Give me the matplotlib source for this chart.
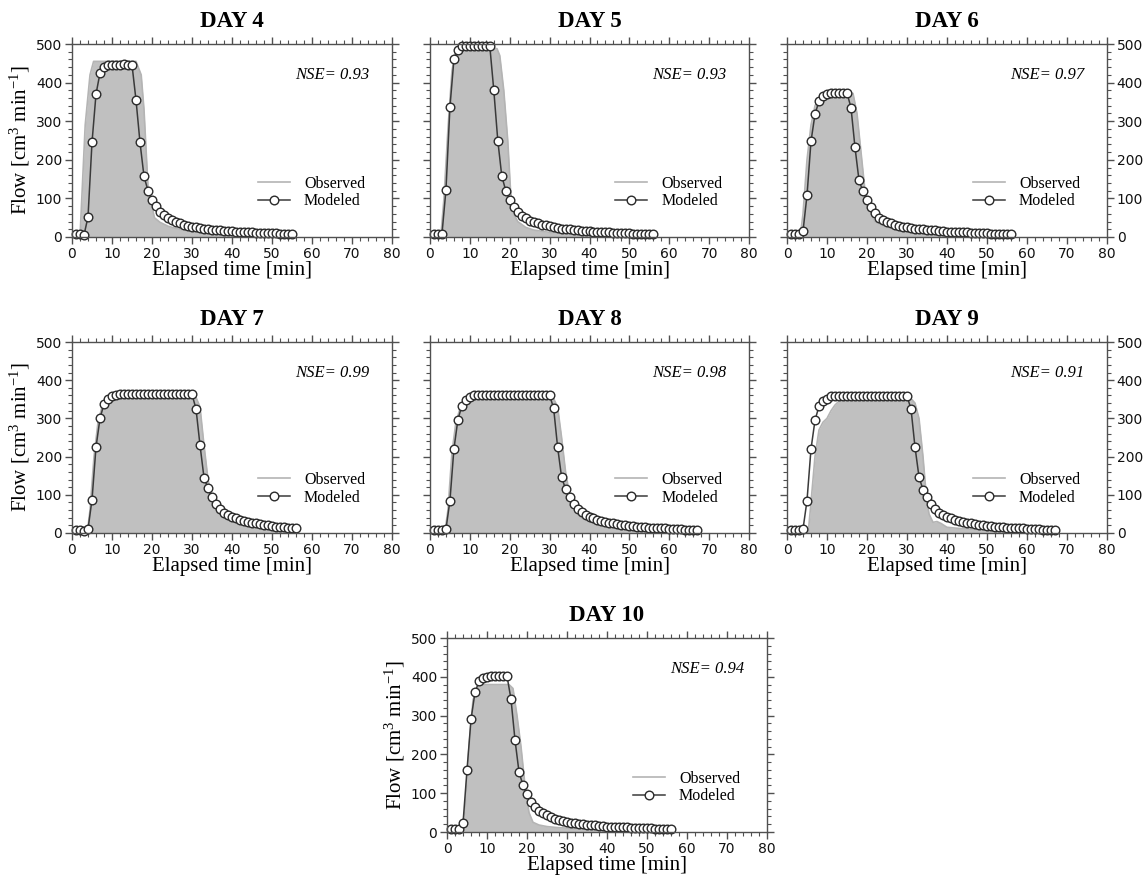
import matplotlib
matplotlib.use('Agg')
import matplotlib.pyplot as plt
from matplotlib.ticker import MultipleLocator

# ---- data ----
days = ['DAY 4', 'DAY 5', 'DAY 6', 'DAY 7', 'DAY 8', 'DAY 9', 'DAY 10']
nse = ['NSE= 0.93', 'NSE= 0.93', 'NSE= 0.97', 'NSE= 0.99', 'NSE= 0.98', 'NSE= 0.91', 'NSE= 0.94']

# modeled flow, one point per minute starting at t = 1
mod4 = [8, 8, 5, 52, 245, 370, 425, 440, 445, 445,
        445, 445, 447, 446, 446, 355, 245, 157, 120,
        97, 80, 66, 56, 49, 43, 39, 35, 32, 29, 27, 25, 23, 22, 20, 19, 18, 17, 16, 15,
        15, 14, 13, 13, 12, 12, 11, 11, 11, 10, 10, 10, 9, 9, 9, 9]
mod5 = [8, 8, 8, 122, 337, 460, 485, 494, 494, 494,
        494, 494, 494, 494, 494, 380, 250, 158, 120,
        97, 78, 65, 55, 48, 42, 38, 35, 32, 30, 28, 26, 24, 22, 21, 20, 18, 17, 16, 15,
        15, 14, 13, 13, 12, 12, 11, 11, 10, 10, 10, 9, 9, 9, 9, 8, 8]
mod6 = [8, 8, 8, 15, 108, 248, 318, 352, 365, 370,
        372, 373, 374, 374, 373, 335, 232, 147, 118,
        97, 77, 62, 50, 45, 40, 36, 32, 29, 27, 25, 24, 22, 21, 20, 19, 18, 17, 16, 15,
        14, 14, 13, 13, 12, 12, 11, 11, 10, 10, 10, 9, 9, 9, 8, 8, 7]
mod7 = [8, 8, 6, 10, 87, 225, 300, 338, 352, 358,
        362, 363, 363, 363, 363, 363, 363, 363, 363, 363,
        363, 363, 363, 363, 363, 363, 363, 363, 363, 363,
        325, 230, 145, 117, 93, 75, 62, 52, 46, 42, 38, 35, 32, 29, 27, 25, 23, 21, 20, 18,
        17, 16, 15, 14, 13, 12]
mod8 = [8, 8, 8, 10, 85, 220, 297, 333, 348, 355,
        360, 360, 360, 360, 360, 360, 360, 360, 360, 360,
        360, 360, 360, 360, 360, 360, 360, 360, 360, 360,
        327, 225, 146, 115, 95, 77, 64, 54, 47, 42, 38, 35, 32, 29, 27, 25, 23, 21, 20, 19,
        18, 17, 16, 15, 14, 13, 13, 12, 12, 11, 11, 10, 10, 9, 9, 8, 8]
mod9 = [8, 8, 8, 10, 85, 220, 295, 332, 345, 352,
        358, 358, 358, 358, 358, 358, 358, 358, 358, 358,
        358, 358, 358, 358, 358, 358, 358, 358, 358, 358,
        325, 225, 147, 113, 95, 75, 62, 52, 46, 42, 38, 35, 32, 29, 27, 25, 23, 21, 20, 19,
        18, 17, 16, 15, 14, 13, 13, 12, 12, 11, 11, 10, 10, 9, 9, 8, 8]
mod10 = [8, 8, 8, 22, 160, 290, 360, 388, 396, 400,
         402, 402, 402, 402, 402, 342, 237, 155, 120,
         97, 78, 65, 55, 48, 43, 38, 34, 31, 28, 26, 24, 22, 21, 20, 19, 18, 17, 16, 15,
         14, 14, 13, 13, 12, 12, 11, 11, 11, 10, 10, 10, 9, 9, 9, 8, 8]

# observed flow (continuous record)
obs4_t = [0, 2.0, 3.3, 4.5, 5.4, 16.0, 17.3, 18.0, 19.0, 20.6, 22, 24, 26, 28, 30, 35, 40, 45, 50, 55]
obs4_q = [0, 0, 290, 420, 455, 455, 420, 330, 130, 50, 38, 28, 22, 18, 15, 10, 7, 5, 4, 3]
obs5_t = [0, 2.7, 3.5, 4.5, 5.5, 6.5, 16.8, 17.5, 18.5, 19.5, 20.2, 21, 22, 24, 26, 30, 35, 40, 45, 50, 56]
obs5_q = [0, 0, 100, 280, 430, 488, 488, 470, 380, 250, 120, 60, 40, 25, 18, 12, 8, 6, 5, 4, 3]
obs6_t = [0, 3.3, 4, 5, 6, 7, 8, 9, 10, 16.5, 17.5, 18.5, 19.5, 21, 22, 24, 27, 30, 35, 40, 45, 50, 56]
obs6_q = [0, 0, 60, 200, 290, 340, 360, 368, 372, 372, 320, 220, 120, 60, 40, 30, 20, 15, 10, 7, 5, 4, 3]
obs7_t = [0, 3.8, 4.5, 5.5, 6.5, 7.5, 8.5, 10, 12, 31, 32, 33, 34, 35, 36, 37, 38, 40, 43, 46, 50, 56]
obs7_q = [0, 0, 60, 200, 290, 330, 345, 352, 355, 355, 330, 230, 140, 90, 65, 50, 40, 30, 20, 15, 10, 6]
obs8_t = [0, 3.7, 4.5, 5.5, 6.5, 7.5, 8.5, 10, 11.5, 31, 32, 33, 34, 35, 36, 37, 38, 40, 43, 46, 50, 55, 60, 67]
obs8_q = [0, 0, 60, 210, 290, 325, 340, 350, 352, 352, 330, 250, 160, 100, 70, 50, 40, 30, 20, 15, 10, 7, 5, 3]
obs9_t = [0, 5.3, 6, 7, 8, 9, 10, 11, 12, 13, 15, 31, 32, 33, 34, 34.8, 35.5, 36.5, 37.5, 38.5, 40, 43, 46, 50, 55, 60, 67]
obs9_q = [0, 0, 80, 200, 270, 290, 300, 320, 335, 345, 352, 352, 340, 300, 200, 100, 50, 28, 30, 25, 15, 12, 10, 7, 5, 4, 3]
obs10_t = [0, 3.7, 4.5, 5.5, 6.5, 7.5, 8.5, 15.5, 16.5, 17.5, 18.5, 19.5, 20.5, 21.5, 23, 25, 28, 32, 36, 40, 45, 50, 56]
obs10_q = [0, 0, 60, 220, 340, 370, 380, 380, 370, 300, 220, 120, 50, 25, 18, 14, 11, 9, 7, 6, 5, 4, 3]

modeled = [mod4, mod5, mod6, mod7, mod8, mod9, mod10]
obs_t = [obs4_t, obs5_t, obs6_t, obs7_t, obs8_t, obs9_t, obs10_t]
obs_q = [obs4_q, obs5_q, obs6_q, obs7_q, obs8_q, obs9_q, obs10_q]

# ---- layout ----
W, H = 1145, 883
# (left, top, right, bottom) in pixels; y-label side
boxes = [(72, 44, 392, 237, 'left'), (430, 44, 749, 237, 'none'), (787, 44, 1107, 237, 'right'),
         (72, 342, 392, 533, 'left'), (430, 342, 749, 533, 'none'), (787, 342, 1107, 533, 'right'),
         (447, 638, 767, 832, 'left')]

serif = 'Liberation Serif'
spine_col = '#505050'
plt.rcParams['mathtext.fontset'] = 'custom'
plt.rcParams['mathtext.rm'] = serif
plt.rcParams['mathtext.it'] = serif + ':italic'

fig = plt.figure(figsize=(W / 100, H / 100), dpi=100)

for i in range(len(days)):
    l, t, r, b, side = boxes[i]
    ax = fig.add_axes([l / W, 1 - b / H, (r - l) / W, (b - t) / H])

    ax.fill_between(obs_t[i], obs_q[i], 0, color='#c0c0c0', lw=0)
    ax.plot(obs_t[i], obs_q[i], color='#b4b4b4', lw=1.2, label='Observed')
    x = list(range(1, len(modeled[i]) + 1))
    ax.plot(x, modeled[i], color='#3a3a3a', lw=1.1, marker='o', ms=6.2,
            mfc='white', mec='#2a2a2a', mew=1.0, label='Modeled', clip_on=False)

    ax.set_xlim(0, 80)
    ax.set_ylim(0, 500)
    ax.xaxis.set_major_locator(MultipleLocator(10))
    ax.xaxis.set_minor_locator(MultipleLocator(2))
    ax.yaxis.set_major_locator(MultipleLocator(100))
    ax.yaxis.set_minor_locator(MultipleLocator(20))
    for s in ax.spines.values():
        s.set_color(spine_col)
        s.set_linewidth(1.0)
    ax.tick_params(which='both', direction='out', top=True, right=True, color=spine_col,
                   labelsize=10, labelcolor='#111111', pad=2)
    ax.tick_params(which='major', length=5, width=1.0)
    ax.tick_params(which='minor', length=3, width=0.8)
    ax.tick_params(axis='y', labelleft=(side == 'left'), labelright=(side == 'right'))

    ax.set_title(days[i], fontfamily=serif, fontweight='bold', fontsize=16.5, pad=12)
    ax.set_xlabel('Elapsed time [min]', fontfamily=serif, fontsize=15, labelpad=0)
    if side == 'left':
        ax.set_ylabel(r'Flow [cm$^{3}$ min$^{\mathrm{-1}}$]', fontfamily=serif, fontsize=15, labelpad=3)

    ax.text(0.93, 0.84, nse[i], transform=ax.transAxes, ha='right', va='center',
            fontfamily=serif, fontstyle='italic', fontsize=12)
    ax.legend(loc='lower left', bbox_to_anchor=(0.56, 0.11), frameon=False,
              prop={'family': serif, 'size': 11.5}, handlelength=2.0, handletextpad=0.9,
              labelspacing=0.1, borderaxespad=0)

fig.savefig('out.png', dpi=100)
